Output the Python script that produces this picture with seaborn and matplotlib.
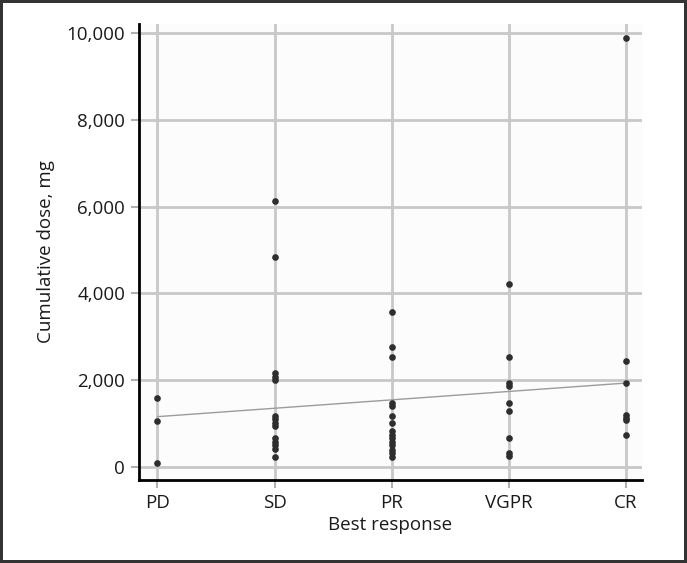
import pandas as pd
import matplotlib
matplotlib.use("Agg")
import matplotlib.pyplot as plt
import seaborn as sns

# values
responses = ['PD', 'SD', 'PR', 'VGPR', 'CR']
pd_dose = [1590, 1060, 90]
sd_dose = [6130, 4850, 2170, 2080, 2000, 1180, 1100, 1010, 950, 660, 570, 490, 400, 215]
pr_dose = [3570, 2760, 2540, 1480, 1400, 1170, 1000, 820, 740, 660, 580, 490, 390, 310, 220]
vgpr_dose = [4220, 2530, 1920, 1860, 1480, 1280, 660, 310, 240]
cr_dose = [9900, 2450, 1920, 1200, 1130, 1070, 740]

# trend line as drawn in the figure (ends at PD and CR)
trend_x = [0, 4]
trend_y = [1155, 1930]

y_ticks = [0, 2000, 4000, 6000, 8000, 10000]

groups = [pd_dose, sd_dose, pr_dose, vgpr_dose, cr_dose]
df = pd.DataFrame({
    'response': [r for r, g in zip(responses, groups) for _ in g],
    'dose': [v for g in groups for v in g],
})
trend = pd.DataFrame({'x': trend_x, 'y': trend_y})

sns.set_style("whitegrid", {
    'axes.facecolor': '#fcfcfc',
    'grid.color': '#c8c8c8',
    'axes.edgecolor': 'black',
})
plt.rcParams['font.family'] = ['Open Sans', 'DejaVu Sans']

fig = plt.figure(figsize=(6.87, 5.63), dpi=100, linewidth=3, edgecolor='#333333')
ax = fig.add_axes([0.2023, 0.1474, 0.7322, 0.8100])

sns.lineplot(data=trend, x='x', y='y', ax=ax, color='#9c9c9c', linewidth=1.0, zorder=3)
sns.stripplot(data=df, x='response', y='dose', order=responses, jitter=False,
              color='#2e2e2e', size=4.8, linewidth=0, ax=ax, zorder=4)

ax.set_xlim(-0.158, 4.137)
ax.set_ylim(-307, 10215)
ax.set_yticks(y_ticks)
ax.set_yticklabels([f'{t:,}' for t in y_ticks])
ax.grid(True, color='#c8c8c8', linewidth=2)
ax.set_axisbelow(True)

for side in ['top', 'right']:
    ax.spines[side].set_visible(False)
for side in ['left', 'bottom']:
    ax.spines[side].set_color('black')
    ax.spines[side].set_linewidth(2)

ax.tick_params(axis='both', which='major', length=6, width=1.5, color='#b0b0b0',
               labelsize=13.5, labelcolor='#1a1a1a', left=True, bottom=True, pad=4)

ax.set_xlabel('Best response', fontsize=13.5, color='#1a1a1a', labelpad=3)
ax.set_ylabel('Cumulative dose, mg', fontsize=13.5, color='#1a1a1a', labelpad=8)

fig.savefig('out.png', dpi=100, edgecolor=fig.get_edgecolor())
